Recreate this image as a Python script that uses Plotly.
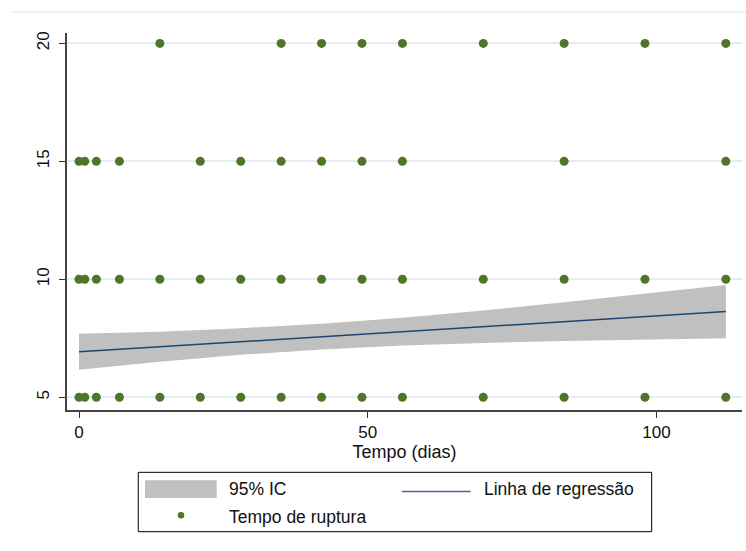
import plotly.graph_objects as go

# Observações: tempo (dias) em cada nível de resposta
dias_todos = [0, 1, 3, 7, 14, 21, 28, 35, 42, 49, 56, 70, 84, 98, 112]
dias_nivel_20 = [14, 35, 42, 49, 56, 70, 84, 98, 112]
dias_nivel_15 = [0, 1, 3, 7, 21, 28, 35, 42, 49, 56, 84, 112]
dias_nivel_10 = dias_todos
dias_nivel_5 = dias_todos
niveis = [20, 15, 10, 5]

# Reta ajustada e intervalo de confiança de 95%
x_ajuste = [0, 14, 28, 42, 56, 70, 84, 98, 112]
y_ajuste = [6.93, 7.14, 7.36, 7.57, 7.78, 7.99, 8.21, 8.42, 8.63]
ic_inferior = [6.17, 6.50, 6.80, 7.02, 7.19, 7.30, 7.39, 7.45, 7.50]
ic_superior = [7.69, 7.78, 7.93, 8.12, 8.37, 8.68, 9.03, 9.39, 9.76]

x_ticks = [0, 50, 100]
y_ticks = [5, 10, 15, 20]

FONT = "Liberation Sans, Arial, sans-serif"
VERDE = "#4f7529"
AZUL = "#1a476f"
CINZA_IC = "#c0c0c0"
GRADE = "#e4eef0"

px_x, px_y = [], []
for nivel, dias in zip(niveis, [dias_nivel_20, dias_nivel_15, dias_nivel_10, dias_nivel_5]):
    px_x.extend(dias)
    px_y.extend([nivel] * len(dias))

fig = go.Figure()

# Faixa do IC
fig.add_trace(go.Scatter(
    x=x_ajuste + x_ajuste[::-1],
    y=ic_superior + ic_inferior[::-1],
    fill="toself", fillcolor=CINZA_IC, mode="lines",
    line=dict(width=0, color=CINZA_IC), hoverinfo="skip", showlegend=False,
))
# Linha de regressão
fig.add_trace(go.Scatter(
    x=x_ajuste, y=y_ajuste, mode="lines",
    line=dict(color=AZUL, width=1.5), showlegend=False,
))
# Pontos observados
fig.add_trace(go.Scatter(
    x=px_x, y=px_y, mode="markers",
    marker=dict(color=VERDE, size=9), showlegend=False,
))

# Legenda desenhada manualmente (duas colunas)
shapes = [
    dict(type="line", xref="paper", yref="paper", x0=-0.083, x1=1.01, y0=1.0557, y1=1.0557,
         line=dict(color="#e3ecec", width=1.5)),
    dict(type="rect", xref="paper", yref="paper", x0=0.1056, x1=0.8662, y0=-0.1653, y1=-0.3228,
         line=dict(color="#000000", width=1), fillcolor="white"),
    dict(type="rect", xref="paper", yref="paper", x0=0.1156, x1=0.2218, y0=-0.1865, y1=-0.2334,
         line=dict(width=0), fillcolor=CINZA_IC),
    dict(type="line", xref="paper", yref="paper", x0=0.4959, x1=0.598, y0=-0.2162, y1=-0.2162,
         line=dict(color="#4a6d90", width=1.5)),
    dict(type="circle", xref="paper", yref="paper", xsizemode="pixel", ysizemode="pixel",
         xanchor=0.1689, yanchor=-0.2793, x0=-3.3, x1=3.3, y0=-3.3, y1=3.3,
         line=dict(width=0), fillcolor=VERDE),
]

def rotulo(texto, x, y):
    return dict(text=texto, xref="paper", yref="paper", x=x, y=y, xanchor="left", yanchor="middle",
                showarrow=False, font=dict(family=FONT, size=17.5, color="#111111"))

annotations = [
    rotulo("95% IC", 0.2375, -0.2095),
    rotulo("Linha de regressão", 0.6144, -0.2095),
    rotulo("Tempo de ruptura", 0.2375, -0.2830),
]

fig.update_layout(
    width=746, height=551,
    margin=dict(l=67, r=4, t=33, b=141),
    paper_bgcolor="white", plot_bgcolor="white",
    font=dict(family=FONT, size=17, color="#111111"),
    shapes=shapes, annotations=annotations,
    xaxis=dict(
        range=[-2.08, 114.8], tickvals=x_ticks, ticks="outside", ticklen=6, tickcolor="#333333",
        showline=True, linecolor="#444444", linewidth=1.5, showgrid=False, zeroline=False,
        title=dict(text="Tempo (dias)", font=dict(family=FONT, size=18), standoff=2),
        tickfont=dict(family=FONT, size=17),
    ),
    yaxis=dict(
        range=[4.46, 20.44], tickvals=y_ticks, ticks="outside", ticklen=6, tickcolor="#333333",
        showline=True, linecolor="#444444", linewidth=1.5, showgrid=True, gridcolor=GRADE,
        gridwidth=1.5, zeroline=False, tickangle=-90, ticklabelstandoff=3,
        tickfont=dict(family=FONT, size=17),
    ),
)

fig.write_html("out.html")
